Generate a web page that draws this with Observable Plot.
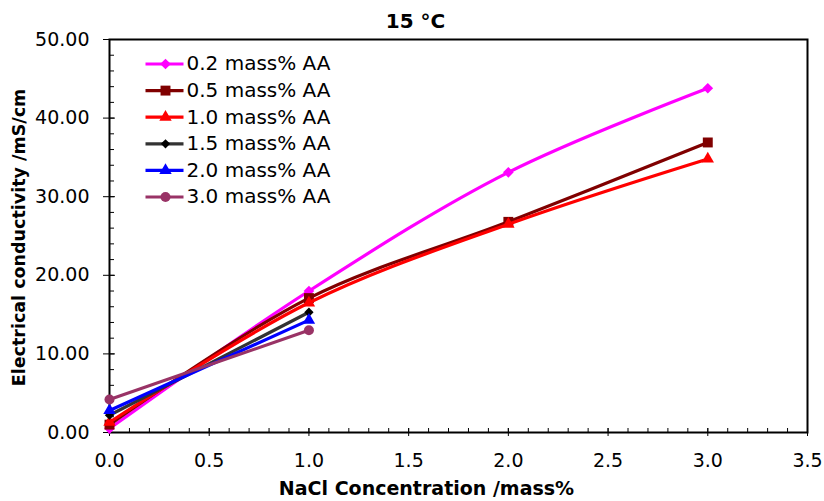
<!DOCTYPE html>
<html>
<head>
<meta charset="utf-8">
<script src="https://cdn.jsdelivr.net/npm/d3@7"></script>
<script src="https://cdn.jsdelivr.net/npm/@observablehq/plot@0.6"></script>
<style>
  html, body { margin: 0; padding: 0; background: #fff; }
  #chart svg { display: block; }
</style>
</head>
<body>
<div id="chart"></div>
<script>
// ---- data ----
const title = "15 °C";
const xLabel = "NaCl Concentration /mass%";
const yLabel = "Electrical conductivity /mS/cm";

const nacl = [0, 1, 2, 3];                 // NaCl concentration (mass%)
const aa02 = [0.5, 18.0, 33.1, 43.8];      // 0.2 mass% AA
const aa05 = [1.0, 17.1, 26.8, 36.9];      // 0.5 mass% AA
const aa10 = [1.3, 16.5, 26.5, 34.8];      // 1.0 mass% AA
const aa15 = [2.2, 15.3];                  // 1.5 mass% AA
const aa20 = [2.8, 14.3];                  // 2.0 mass% AA
const aa30 = [4.2, 13.0];                  // 3.0 mass% AA

const seriesLabels = ["0.2 mass% AA", "0.5 mass% AA", "1.0 mass% AA", "1.5 mass% AA", "2.0 mass% AA", "3.0 mass% AA"];
const seriesValues = [aa02, aa05, aa10, aa15, aa20, aa30];
const lineColors   = ["#ff00ff", "#800000", "#ff0000", "#333333", "#0000ff", "#993366"];
const markerColors = ["#ff00ff", "#800000", "#ff0000", "#000000", "#0000ff", "#993366"];
const markerShapes = ["diamond2", "square", "triangle", "diamond2", "triangle", "circle"];
const markerRadii  = [4.8, 5.6, 4.6, 4.2, 4.6, 5.0];

const xTicks = [0, 0.5, 1, 1.5, 2, 2.5, 3, 3.5];
const xMinorTicks = d3.range(0, 36).map(i => i / 10);
const yTicks = [0, 10, 20, 30, 40, 50];
const yMinorTicks = d3.range(0, 26).map(i => i * 2);

// ---- build ----
const FONT = "DejaVu Sans";
const legendRowStep = 26.6;
const legendTop = 24.5;
const lineSymbol = { draw(context) { context.moveTo(-19, 0); context.lineTo(19, 0); } };

const marks = [];

// axes: minor ticks (inward), major ticks (crossing), labels
marks.push(Plot.axisX(xMinorTicks, { tickSize: -4, text: null, label: null, stroke: "black" }));
marks.push(Plot.axisX(xTicks, { tickSize: 8, dy: -4, text: null, label: null, stroke: "black" }));
marks.push(Plot.axisX(xTicks, { tickSize: 0, tickPadding: 21, label: null, tickFormat: d => d.toFixed(1), fontSize: 19, fill: "black", fontFamily: FONT }));
marks.push(Plot.axisY(yMinorTicks, { tickSize: -5, text: null, label: null, stroke: "black" }));
marks.push(Plot.axisY(yTicks, { tickSize: 12, dx: 6, text: null, label: null, stroke: "black" }));
marks.push(Plot.axisY(yTicks, { tickSize: 0, tickPadding: 20, label: null, tickFormat: d => d.toFixed(2), fontSize: 19, fill: "black", fontFamily: FONT }));
marks.push(Plot.frame({ stroke: "black", strokeWidth: 2 }));

// series
seriesValues.forEach((vals, i) => {
  const rows = vals.map((v, j) => ({ x: nacl[j], y: v }));
  marks.push(Plot.line(rows, { x: "x", y: "y", stroke: lineColors[i], strokeWidth: 3.2, curve: "catmull-rom" }));
  marks.push(Plot.dot(rows, { x: "x", y: "y", symbol: markerShapes[i], fill: markerColors[i], stroke: "none", r: markerRadii[i] }));
});

// legend (inside plot, top-left)
seriesLabels.forEach((label, i) => {
  const dy = legendTop + i * legendRowStep;
  marks.push(Plot.dot([label], { frameAnchor: "top-left", dx: 55, dy, symbol: lineSymbol, stroke: lineColors[i], strokeWidth: 3.2, fill: "none" }));
  marks.push(Plot.dot([label], { frameAnchor: "top-left", dx: 56, dy, symbol: markerShapes[i], fill: markerColors[i], stroke: "none", r: markerRadii[i] }));
  marks.push(Plot.text([label], { frameAnchor: "top-left", dx: 77, dy, text: d => d, textAnchor: "start", lineAnchor: "middle", fontSize: 20, fill: "black", fontFamily: FONT }));
});

// titles
marks.push(Plot.text([title], { frameAnchor: "top", dx: -43, dy: -17.5, text: d => d, textAnchor: "middle", lineAnchor: "middle", fontSize: 20, fontWeight: "bold", fill: "black", fontFamily: FONT }));
marks.push(Plot.text([xLabel], { frameAnchor: "bottom", dx: -32, dy: 56, text: d => d, textAnchor: "middle", lineAnchor: "middle", fontSize: 19, fontWeight: "bold", fill: "black", fontFamily: FONT }));
marks.push(Plot.text([yLabel], { frameAnchor: "left", dx: -90, dy: 1.5, rotate: -90, text: d => d, textAnchor: "middle", lineAnchor: "middle", fontSize: 17.5, fontWeight: "bold", fill: "black", fontFamily: FONT }));

const chart = Plot.plot({
  width: 824,
  height: 501,
  marginLeft: 109,
  marginRight: 17,
  marginTop: 39,
  marginBottom: 69,
  style: { fontFamily: FONT, color: "black", background: "white", overflow: "visible" },
  x: { domain: [0, 3.5], axis: null },
  y: { domain: [0, 50], axis: null },
  marks
});
document.getElementById("chart").appendChild(chart);
</script>
</body>
</html>
